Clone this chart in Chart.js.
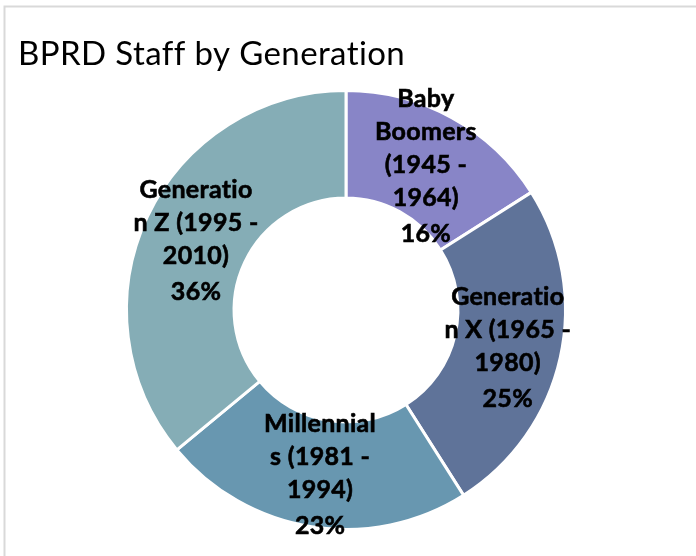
<!DOCTYPE html>
<html>
<head>
<meta charset="utf-8">
<script src="https://cdn.jsdelivr.net/npm/chart.js@4.4.0/dist/chart.umd.min.js"></script>
<style>
  html, body { margin: 0; padding: 0; background: #fff; }
  #wrap { width: 696px; height: 556px; position: relative; }
</style>
</head>
<body>
<div id="wrap"><canvas id="staff-chart" width="696" height="556"></canvas></div>
<script>
var chartTitle = "BPRD Staff by Generation";

var categories = [
  "Baby Boomers (1945 - 1964)",
  "Generation X (1965 - 1980)",
  "Millennials (1981 - 1994)",
  "Generation Z (1995 - 2010)"
];

// how the labels wrap inside each slice
var labelLines = [
  ["Baby", "Boomers", "(1945 -", "1964)"],
  ["Generatio", "n X (1965 -", "1980)"],
  ["Millennial", "s (1981 -", "1994)"],
  ["Generatio", "n Z (1995 -", "2010)"]
];

var shares = [16, 25, 23, 36];

var sliceColors = ['#8885C7', '#5F7399', '#6897B0', '#85ADB6'];

var labelFont = 'bold 25px Lato';

// frame + title like the spreadsheet chart box
var framePlugin = {
  id: 'frame',
  beforeDraw: function(chart) {
    var ctx = chart.ctx;
    ctx.save();
    ctx.fillStyle = '#fff';
    ctx.fillRect(0, 0, chart.width, chart.height);
    ctx.strokeStyle = '#d9d9d9';
    ctx.lineWidth = 2;
    ctx.beginPath();
    ctx.moveTo(4.5, chart.height);
    ctx.lineTo(4.5, 6.5);
    ctx.lineTo(chart.width, 6.5);
    ctx.stroke();
    ctx.fillStyle = '#000';
    ctx.font = '33px Lato';
    ctx.letterSpacing = '0.4px'; // also stops the "ti" ligature
    ctx.textBaseline = 'alphabetic';
    ctx.fillText(chartTitle, 18, 65);
    ctx.restore();
  }
};

var sliceLabels = {
  id: 'sliceLabels',
  afterDatasetsDraw: function(chart) {
    var ctx = chart.ctx;
    var meta = chart.getDatasetMeta(0);
    ctx.save();
    ctx.font = labelFont;
    ctx.letterSpacing = '0.3px';
    ctx.fillStyle = '#000';
    ctx.strokeStyle = '#000';
    ctx.lineWidth = 0.6;
    ctx.textAlign = 'center';
    ctx.textBaseline = 'middle';
    meta.data.forEach(function(arc, i) {
      var pos = arc.tooltipPosition();
      var lines = labelLines[i].concat([shares[i] + '%']);
      var step = 33;
      var top = pos.y - (lines.length - 1) * step / 2;
      lines.forEach(function(txt, j) {
        var extra = (j === lines.length - 1) ? 3 : 0;
        ctx.fillText(txt, pos.x, top + j * step + extra);
        ctx.strokeText(txt, pos.x, top + j * step + extra);
      });
    });
    ctx.restore();
  }
};

var ctx = document.getElementById('staff-chart').getContext('2d');
new Chart(ctx, {
  type: 'doughnut',
  data: {
    labels: categories,
    datasets: [{
      data: shares,
      backgroundColor: sliceColors,
      borderColor: '#fff',
      borderWidth: 3
    }]
  },
  options: {
    responsive: false,
    animation: false,
    cutout: '51%',
    layout: { padding: { top: 89, bottom: 25, left: 125, right: 129 } },
    plugins: {
      legend: { display: false },
      title: { display: false },
      tooltip: { enabled: false }
    }
  },
  plugins: [framePlugin, sliceLabels]
});
</script>
</body>
</html>
